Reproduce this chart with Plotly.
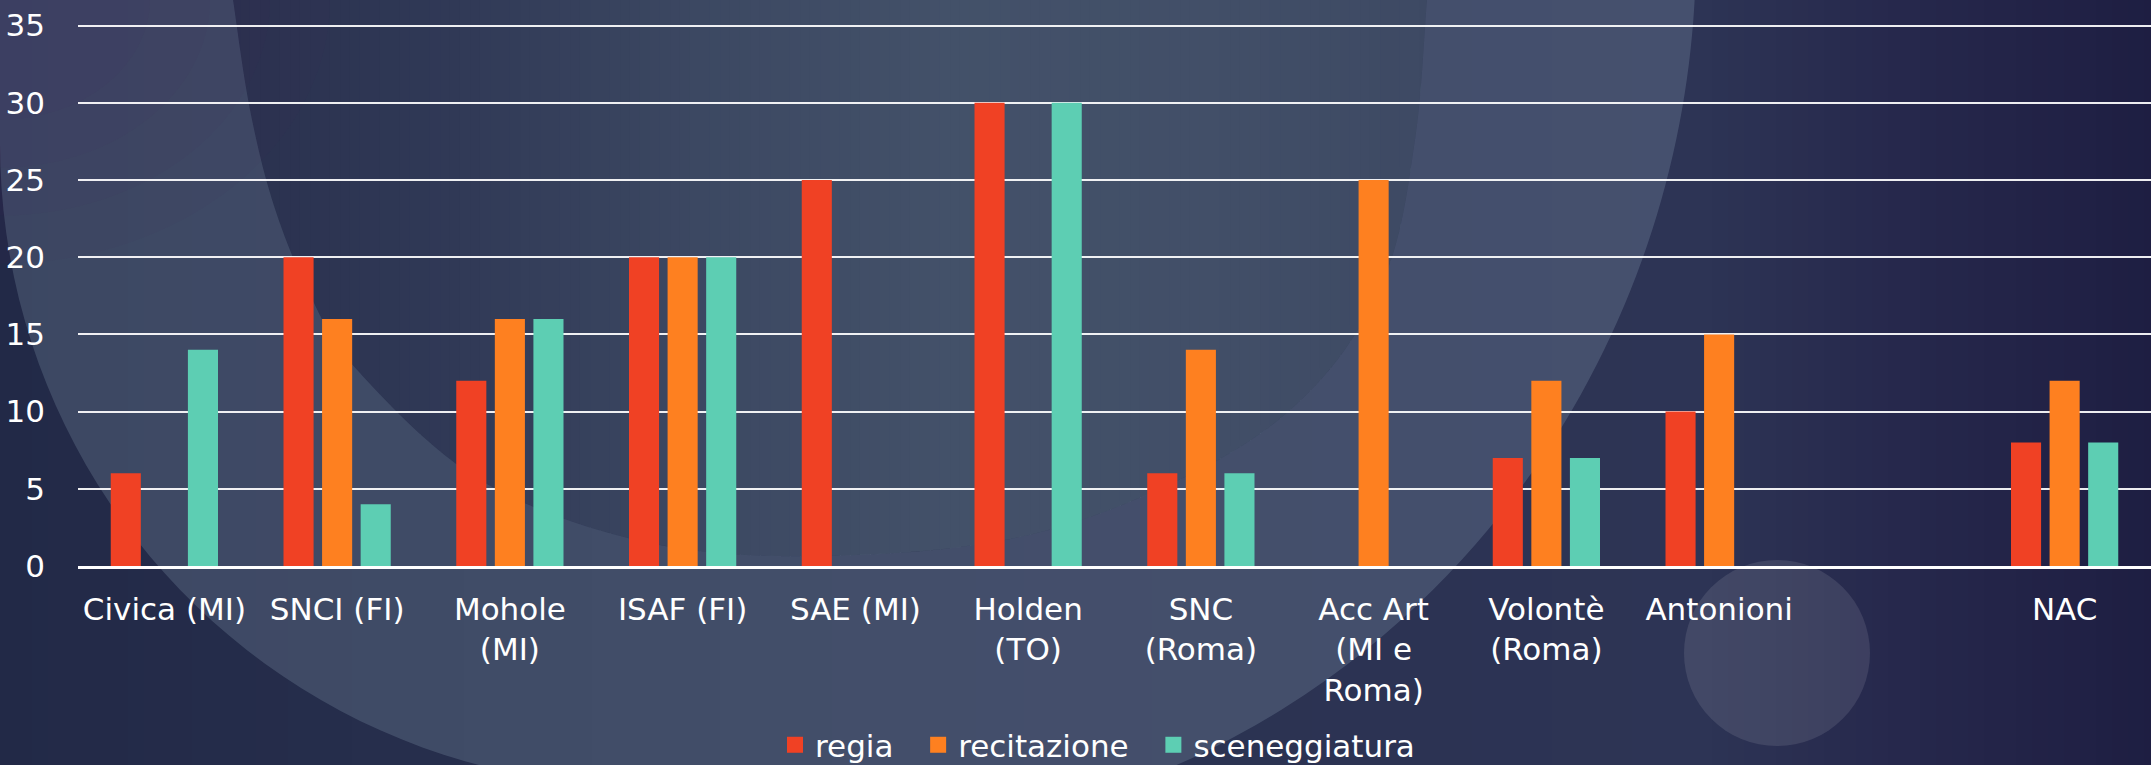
import math
import plotly.graph_objects as go

# ---------------- data ----------------
categories = ["Civica (MI)", "SNCI (FI)", "Mohole (MI)", "ISAF (FI)", "SAE (MI)",
              "Holden (TO)", "SNC (Roma)", "Acc Art (MI e Roma)", "Volontè (Roma)",
              "Antonioni", " ", "NAC"]
tick_labels = ["Civica (MI)", "SNCI (FI)", "Mohole<br>(MI)", "ISAF (FI)", "SAE (MI)",
               "Holden<br>(TO)", "SNC<br>(Roma)", "Acc Art<br>(MI e<br>Roma)", "Volontè<br>(Roma)",
               "Antonioni", " ", "NAC"]
regia = [6, 20, 12, 20, 25, 30, 6, None, 7, 10, None, 8]
recitazione = [None, 16, 16, 20, None, None, 14, 25, 12, 15, None, 12]
sceneggiatura = [14, 4, 16, 20, None, 30, 6, None, 7, None, None, 8]
series_names = ["regia", "recitazione", "sceneggiatura"]
y_ticks = [0, 5, 10, 15, 20, 25, 30, 35]

# ---------------- styling ----------------
COLORS = ["#F04124", "#FE8020", "#5DCEB3"]
FONT = "DejaVu Sans"
W_PX, H_PX = 2151, 765
Y_MAX = 35.3                      # a hair above 35 so the top gridline is drawn
ZERO_PX, TOP35_PX = 566, 26       # pixel rows of 0 and 35
MB = H_PX - ZERO_PX
MT = ZERO_PX - (ZERO_PX - TOP35_PX) * Y_MAX / 35.0
ML, MR = 78, 0
PW = W_PX - ML - MR
PH = H_PX - MT - MB


def px2paper(x, y):
    return (x - ML) / PW, (H_PX - MB - y) / PH


def lerp(stops, x):
    if x <= stops[0][0]:
        return stops[0][1]
    for (x0, c0), (x1, c1) in zip(stops[:-1], stops[1:]):
        if x0 <= x <= x1:
            t = (x - x0) / (x1 - x0)
            return tuple(a + (b - a) * t for a, b in zip(c0, c1))
    return stops[-1][1]


def rgb(c):
    return "rgb(%d,%d,%d)" % tuple(round(v) for v in c)


def catmull(pts, n=12):
    p = [pts[0]] + list(pts) + [pts[-1]]
    out = []
    for i in range(1, len(p) - 2):
        p0, p1, p2, p3 = p[i - 1], p[i], p[i + 1], p[i + 2]
        for s in range(n):
            t = s / n
            t2, t3 = t * t, t * t * t
            out.append(tuple(0.5 * ((2 * p1[j]) + (-p0[j] + p2[j]) * t +
                                    (2 * p0[j] - 5 * p1[j] + 4 * p2[j] - p3[j]) * t2 +
                                    (-p0[j] + 3 * p1[j] - 3 * p2[j] + p3[j]) * t3) for j in range(2)))
    out.append(pts[-1])
    return out


def clip_x(poly, xmin, xmax):
    def clip(poly, inside, inter):
        out = []
        for i in range(len(poly)):
            cur, prev = poly[i], poly[i - 1]
            if inside(cur):
                if not inside(prev):
                    out.append(inter(prev, cur))
                out.append(cur)
            elif inside(prev):
                out.append(inter(prev, cur))
        return out

    def ix(xv):
        def f(a, b):
            t = (xv - a[0]) / (b[0] - a[0])
            return (xv, a[1] + (b[1] - a[1]) * t)
        return f
    poly = clip(poly, lambda p: p[0] >= xmin, ix(xmin))
    if poly:
        poly = clip(poly, lambda p: p[0] <= xmax, ix(xmax))
    return poly


def poly_path(poly):
    return "M" + " L".join("%.5f,%.5f" % px2paper(*p) for p in poly) + " Z"


def paper_shape(**kw):
    d = dict(xref="paper", yref="paper", line=dict(width=0), layer="below")
    d.update(kw)
    return d


shapes = []
# background horizontal gradient
grad_stops = [(0, (34, 41, 71)), (400, (38, 46, 76)), (900, (42, 50, 80)), (1400, (44, 51, 83)),
              (1700, (45, 52, 85)), (1900, (38, 40, 76)), (2151, (30, 30, 66))]
step = 16
for sx in range(0, W_PX, step):
    x0, y0 = px2paper(sx, H_PX + 5)
    x1, y1 = px2paper(sx + step + 1, -5)
    shapes.append(paper_shape(type="rect", x0=x0, x1=x1, y0=y0, y1=y1,
                              fillcolor=rgb(lerp(grad_stops, sx + step / 2))))

# decorative ring geometry (pixels)
outer_poly = [(-40, -60), (-20, 0)]
for deg in range(180, 96, -2):
    a = math.radians(deg)
    outer_poly.append((642 + 642 * math.cos(a), 144 + 642 * math.sin(a)))
for yy in range(800, -41, -15):
    u = (yy + 50) / 885.0
    outer_poly.append((845 + 851 * math.sqrt(max(0.0, 1 - u * u)), yy))
outer_poly.append((1720, -60))
inner_chain = [(225, -60), (233, 0), (250, 110), (274, 206), (310, 295), (357, 370), (480, 480),
               (645, 542), (823, 556), (1029, 535), (1207, 466), (1317, 384), (1386, 274),
               (1415, 140), (1427, 0), (1432, -60)]
inner_poly = catmull(inner_chain)

# inner disc: opaque vertical strips carrying its own soft gradient
inner_stops = [(230, (42, 49, 79)), (450, (48, 57, 86)), (700, (60, 72, 98)), (950, (67, 81, 105)),
               (1200, (66, 79, 104)), (1440, (61, 73, 99))]
istep = 10
for sx in range(220, 1440, istep):
    poly = clip_x(inner_poly, sx, sx + istep + 1)
    if len(poly) > 2:
        shapes.append(paper_shape(type="path", path=poly_path(poly),
                                  fillcolor=rgb(lerp(inner_stops, sx + istep / 2))))

# the lighter ring itself (outer minus inner)
shapes.append(paper_shape(type="path", path=poly_path(outer_poly) + " " + poly_path(inner_poly),
                          fillcolor="rgba(200,230,240,0.16)"))

# purple tint in the top-left corner
for rr in [330, 270, 210, 150]:
    x0, y0 = px2paper(-rr, -rr * 0.8)
    x1, y1 = px2paper(rr, rr * 0.8)
    shapes.append(paper_shape(type="circle", x0=x0, x1=x1, y0=y0, y1=y1,
                              fillcolor="rgba(70,30,95,0.05)"))

# small circle near bottom right
x0, y0 = px2paper(1777 - 93, 653 - 93)
x1, y1 = px2paper(1777 + 93, 653 + 93)
shapes.append(paper_shape(type="circle", x0=x0, x1=x1, y0=y0, y1=y1,
                          fillcolor="rgba(255,255,255,0.10)"))

# ---------------- figure ----------------
fig = go.Figure()
for name, vals, col in zip(series_names, [regia, recitazione, sceneggiatura], COLORS):
    fig.add_trace(go.Bar(x=categories, y=vals, name=name, marker=dict(color=col, line=dict(width=0)),
                         showlegend=False))
NBSP = "\u00a0"
legend_labels = [series_names[0] + NBSP * 2, series_names[1] + NBSP * 2, series_names[2]]
for name, col in zip(legend_labels, COLORS):
    fig.add_trace(go.Scatter(x=[None], y=[None], mode="markers", name=name,
                             marker=dict(symbol="square", size=17, color=col)))

lx, _ = px2paper(775, 0)
_, ly = px2paper(0, 745)
fig.update_layout(
    width=W_PX, height=H_PX,
    margin=dict(l=ML, r=MR, t=MT, b=MB, pad=0, autoexpand=False),
    paper_bgcolor="#262d4d",
    plot_bgcolor="rgba(0,0,0,0)",
    barmode="group", bargap=0.33, bargroupgap=0.22,
    font=dict(family=FONT, color="white", size=31),
    shapes=shapes,
    showlegend=True,
    legend=dict(orientation="h", x=lx, xanchor="left", y=ly, yanchor="middle",
                bgcolor="rgba(0,0,0,0)", font=dict(family=FONT, size=31, color="white"),
                itemsizing="trace"),
    xaxis=dict(type="category", categoryorder="array", categoryarray=categories,
               tickmode="array", tickvals=categories, ticktext=tick_labels,
               showgrid=False, zeroline=False, showline=True, linecolor="white", linewidth=2.5,
               ticks="", ticklabelstandoff=14, automargin=False,
               tickfont=dict(family=FONT, size=31, color="white"), fixedrange=True),
    yaxis=dict(range=[0, Y_MAX], tickmode="array", tickvals=y_ticks, showgrid=True,
               gridcolor="rgba(255,255,255,0.92)", gridwidth=2, zeroline=False, showline=False,
               ticks="", ticklabelstandoff=32, automargin=False,
               tickfont=dict(family=FONT, size=31, color="white"), fixedrange=True),
)

fig.write_html("out.html", config={"displayModeBar": False},
               post_script="document.body.style.margin='0px';document.body.style.overflow='hidden';")
